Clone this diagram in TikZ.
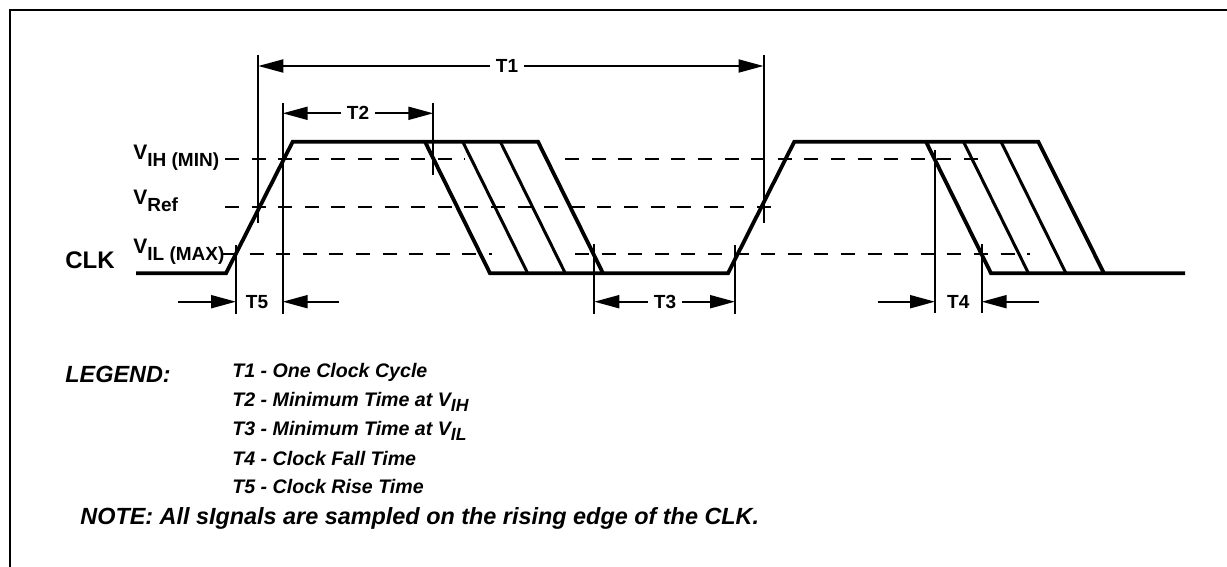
\documentclass[tikz,border=0pt]{standalone}
\usepackage{fontspec}
\setmainfont{Liberation Sans}
\usetikzlibrary{arrows.meta}

\tikzset{
    sig/.style={line width=1.9pt, line join=miter},
    edgeline/.style={line width=1.5pt},
    guide/.style={line width=1pt},
    lvl/.style={line width=1pt, dash pattern=on 7pt off 6.3pt},
    dimarr/.style={line width=1pt, -{Triangle[length=12.5pt,width=6.5pt]}},
    tlab/.style={font=\fontsize{9.5}{11}\selectfont\bfseries, inner sep=3pt},
    vlab/.style={font=\fontsize{10.5}{12}\selectfont\bfseries, anchor=base west, inner sep=0pt},
    leg/.style={font=\fontsize{9.8}{12}\selectfont\bfseries\itshape, anchor=base west, inner sep=0pt},
    bigleg/.style={leg, font=\fontsize{11.7}{13}\selectfont\bfseries\itshape},
}
\newcommand{\vsub}[1]{\raisebox{-3.5pt}{\fontsize{9.5}{10}\selectfont #1}}
\newcommand{\lsub}[1]{\raisebox{-2.8pt}{\fontsize{8.8}{10}\selectfont #1}}

\begin{document}
\begin{tikzpicture}[x=0.5pt, y=-0.5pt]
    \useasboundingbox (0,0) rectangle (1227,567);

    % 外框
    \draw[line width=1.2pt] (1227,10) -- (10,10) -- (10,567);

    % 电平标签
    \node[font=\fontsize{12}{14}\selectfont\bfseries, anchor=base east, inner sep=0pt] (clk) at (115,268) {CLK};
    \node[vlab] (vih) at (133,160) {V\vsub{IH (MIN)}};
    \node[vlab] (vref) at (133,205) {V\vsub{Ref}};
    \node[vlab] (vil) at (133,253) {V\vsub{IL (MAX)}};

    % 电平虚线
    \draw[lvl] (225,159.3) -- (465,159.3);
    \draw[lvl] (565,159.3) -- (983,159.3);
    \draw[lvl] (225,207.3) -- (780,207.3);
    \draw[lvl] (223,254.3) -- (492,254.3);
    \draw[lvl] (575,254.3) -- (1030,254.3);

    % 时钟波形
    \draw[sig] (136,273.3) -- (226,273.3) -- (292.7,141.7) -- (538,141.7) -- (603,273.3);
    \draw[sig] (425,141.7) -- (490,273.3) -- (728,273.3) -- (794.3,141.7) -- (1038.3,141.7) -- (1104,273.3);
    \draw[sig] (926,141.7) -- (991,273.3) -- (1185,273.3);
    \draw[edgeline] (462.7,141.7) -- (527.7,273.3);
    \draw[edgeline] (500.3,141.7) -- (565.3,273.3);
    \draw[edgeline] (963.5,141.7) -- (1028.5,273.3);
    \draw[edgeline] (1001,141.7) -- (1066,273.3);

    % 时间标记竖线
    \coordinate (aTop) at (258.3,55);  \coordinate (aBot) at (258.3,223);
    \coordinate (bTop) at (282.7,103); \coordinate (bBot) at (282.7,314);
    \coordinate (cTop) at (433.3,103); \coordinate (cBot) at (433.3,175);
    \coordinate (dTop) at (236,245);   \coordinate (dBot) at (236,314);
    \coordinate (eTop) at (594.3,244); \coordinate (eBot) at (594.3,314);
    \coordinate (fTop) at (735,245);   \coordinate (fBot) at (735,314);
    \coordinate (gTop) at (763.5,55);  \coordinate (gBot) at (763.5,223);
    \coordinate (hTop) at (935,150);   \coordinate (hBot) at (935,313);
    \coordinate (iTop) at (981.7,244); \coordinate (iBot) at (981.7,313);
    \draw[guide] (aTop) -- (aBot);
    \draw[guide] (bTop) -- (bBot);
    \draw[guide] (cTop) -- (cBot);
    \draw[guide] (dTop) -- (dBot);
    \draw[guide] (eTop) -- (eBot);
    \draw[guide] (fTop) -- (fBot);
    \draw[guide] (gTop) -- (gBot);
    \draw[guide] (hTop) -- (hBot);
    \draw[guide] (iTop) -- (iBot);

    % T1, T2, T3
    \node[tlab] (t1) at (507,66) {T1};
    \draw[dimarr] (t1) -- (t1 -| aTop);
    \draw[dimarr] (t1) -- (t1 -| gTop);
    \node[tlab] (t2) at (358,113.3) {T2};
    \draw[dimarr] (t2) -- (t2 -| bTop);
    \draw[dimarr] (t2) -- (t2 -| cTop);
    \node[tlab] (t3) at (665,301.7) {T3};
    \draw[dimarr] (t3) -- (t3 -| eTop);
    \draw[dimarr] (t3) -- (t3 -| fTop);

    % T5, T4 (箭头由外向内)
    \node[tlab] (t5) at (257,301.7) {T5};
    \coordinate (t5in) at (178,301.7);
    \coordinate (t5out) at (339,301.7);
    \draw[dimarr] (t5in) -- (t5in -| dTop);
    \draw[dimarr] (t5out) -- (t5out -| bTop);
    \node[tlab] (t4) at (958.3,301.7) {T4};
    \coordinate (t4in) at (877.7,301.7);
    \coordinate (t4out) at (1039.3,301.7);
    \draw[dimarr] (t4in) -- (t4in -| hTop);
    \draw[dimarr] (t4out) -- (t4out -| iTop);

    % 图例
    \node[bigleg] (legend) at (65,382.7) {LEGEND:};
    \node[leg] (l1) at (232,377.3) {T1 - One Clock Cycle};
    \node[leg] (l2) at (232,406) {T2 - Minimum Time at V\lsub{IH}};
    \node[leg] (l3) at (232,435) {T3 - Minimum Time at V\lsub{IL}};
    \node[leg] (l4) at (232,465) {T4 - Clock Fall Time};
    \node[leg] (l5) at (232,493.3) {T5 - Clock Rise Time};
    \node[bigleg] (note) at (80,524) {NOTE: All sIgnals are sampled on the rising edge of the CLK.};
\end{tikzpicture}
\end{document}
